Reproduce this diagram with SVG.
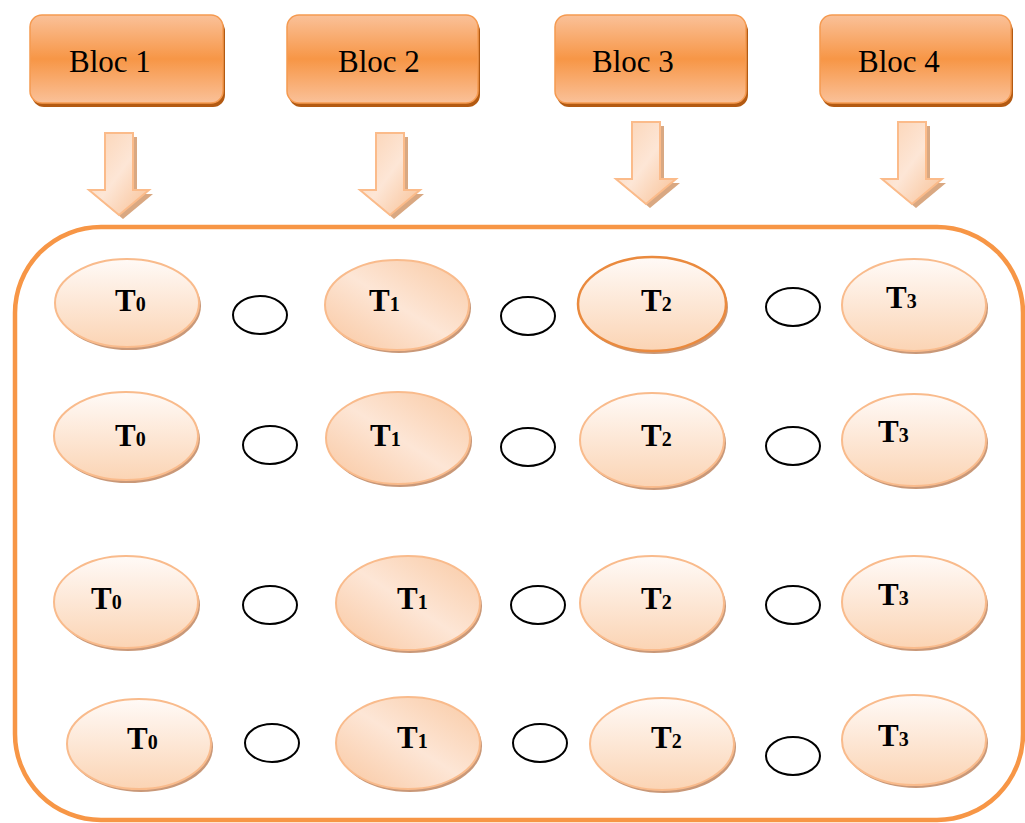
<svg xmlns="http://www.w3.org/2000/svg" width="1025" height="823" viewBox="0 0 1025 823">
<defs>
<linearGradient id="gBloc" x1="0" y1="0" x2="0" y2="1">
<stop offset="0" stop-color="#fac199"/>
<stop offset="0.5" stop-color="#f79646"/>
<stop offset="1" stop-color="#fac199"/>
</linearGradient>
<linearGradient id="gArrow" x1="0" y1="0" x2="1" y2="1">
<stop offset="0" stop-color="#fbd2b2"/>
<stop offset="0.5" stop-color="#fde6d6"/>
<stop offset="1" stop-color="#f8bf92"/>
</linearGradient>
<linearGradient id="gEll" x1="0" y1="0" x2="0" y2="1">
<stop offset="0" stop-color="#fffaf7"/>
<stop offset="1" stop-color="#fbd4b4"/>
</linearGradient>
<linearGradient id="gEll1" x1="0" y1="1" x2="1" y2="0">
<stop offset="0" stop-color="#f9c7a0"/>
<stop offset="0.5" stop-color="#fde6d6"/>
<stop offset="1" stop-color="#f9c9a3"/>
</linearGradient>
<path id="arrow" d="M-14,0 H14 V57 H30 L0,82 L-30,57 H-14 Z"/>
</defs>
<style>
.bloc{fill:url(#gBloc);stroke:#f59a50;stroke-width:1.5}
.blocsh{fill:#b35a12}
.bt{font-family:"Liberation Serif",serif;font-size:31px;fill:#000}
.arr{fill:url(#gArrow);stroke:#fbbb8a;stroke-width:2}
.arrsh{fill:#d9a882}
.ell{fill:url(#gEll);stroke:#f9bb8c;stroke-width:2}
.ell1{fill:url(#gEll1);stroke:#f9bb8c;stroke-width:2}
.ell2{fill:url(#gEll);stroke:#ea8a3e;stroke-width:2.5}
.esh{fill:#c99878}
.c{fill:#fff;stroke:#000;stroke-width:2}
.t{font-family:"Liberation Serif",serif;font-weight:bold;font-size:31px;fill:#000}
.s{font-size:20px}
.frame{fill:none;stroke:#f79646;stroke-width:4.5}
</style>
<rect class="frame" x="15" y="227" width="1008" height="593" rx="86" ry="86"/>
<g id="bloc1"><rect class="blocsh" x="32" y="19" width="193" height="88" rx="12"/><rect class="bloc" x="30" y="15" width="193" height="88" rx="12"/><text class="bt" x="69" y="72">Bloc 1</text></g>
<g id="bloc2"><rect class="blocsh" x="289" y="19" width="191" height="88" rx="12"/><rect class="bloc" x="287" y="15" width="191" height="88" rx="12"/><text class="bt" x="338" y="72">Bloc 2</text></g>
<g id="bloc3"><rect class="blocsh" x="557" y="19" width="191" height="88" rx="12"/><rect class="bloc" x="555" y="15" width="191" height="88" rx="12"/><text class="bt" x="592" y="72">Bloc 3</text></g>
<g id="bloc4"><rect class="blocsh" x="822" y="19" width="191" height="88" rx="12"/><rect class="bloc" x="820" y="15" width="191" height="88" rx="12"/><text class="bt" x="858" y="72">Bloc 4</text></g>
<g id="connectors">
<use href="#arrow" class="arrsh" transform="translate(123,137)"/><use href="#arrow" class="arr" transform="translate(119,133)"/>
<use href="#arrow" class="arrsh" transform="translate(394,137)"/><use href="#arrow" class="arr" transform="translate(390,133)"/>
<use href="#arrow" class="arrsh" transform="translate(650,126)"/><use href="#arrow" class="arr" transform="translate(646,122)"/>
<use href="#arrow" class="arrsh" transform="translate(916,126)"/><use href="#arrow" class="arr" transform="translate(912,122)"/>
</g>
<!-- row 1 -->
<g id="r1t0"><ellipse class="esh" cx="129" cy="306" rx="72" ry="44"/><ellipse class="ell" cx="127" cy="303" rx="72" ry="44"/><text class="t" x="115" y="311">T<tspan class="s">0</tspan></text></g>
<g id="r1c1"><ellipse class="c" cx="260" cy="315" rx="27" ry="19"/></g>
<g id="r1t1"><ellipse class="esh" cx="399" cy="308" rx="72" ry="45"/><ellipse class="ell1" cx="397" cy="305" rx="72" ry="45"/><text class="t" x="369" y="311">T<tspan class="s">1</tspan></text></g>
<g id="r1c2"><ellipse class="c" cx="528" cy="316" rx="27" ry="19"/></g>
<g id="r1t2"><ellipse class="esh" cx="654" cy="307" rx="74" ry="47"/><ellipse class="ell2" cx="652" cy="304" rx="74" ry="47"/><text class="t" x="641" y="311">T<tspan class="s">2</tspan></text></g>
<g id="r1c3"><ellipse class="c" cx="793" cy="307" rx="27" ry="19"/></g>
<g id="r1t3"><ellipse class="esh" cx="916" cy="308" rx="72" ry="46"/><ellipse class="ell" cx="914" cy="305" rx="72" ry="46"/><text class="t" x="886" y="308">T<tspan class="s">3</tspan></text></g>
<!-- row 2 -->
<g id="r2t0"><ellipse class="esh" cx="128" cy="439" rx="72" ry="44"/><ellipse class="ell" cx="126" cy="436" rx="72" ry="44"/><text class="t" x="115" y="446">T<tspan class="s">0</tspan></text></g>
<g id="r2c1"><ellipse class="c" cx="270" cy="445" rx="27" ry="19"/></g>
<g id="r2t1"><ellipse class="esh" cx="400" cy="441" rx="72" ry="46"/><ellipse class="ell1" cx="398" cy="438" rx="72" ry="46"/><text class="t" x="370" y="446">T<tspan class="s">1</tspan></text></g>
<g id="r2c2"><ellipse class="c" cx="528" cy="447" rx="27" ry="19"/></g>
<g id="r2t2"><ellipse class="esh" cx="654" cy="443" rx="72" ry="47"/><ellipse class="ell" cx="652" cy="440" rx="72" ry="47"/><text class="t" x="641" y="446">T<tspan class="s">2</tspan></text></g>
<g id="r2c3"><ellipse class="c" cx="793" cy="446" rx="27" ry="19"/></g>
<g id="r2t3"><ellipse class="esh" cx="916" cy="443" rx="72" ry="46"/><ellipse class="ell" cx="914" cy="440" rx="72" ry="46"/><text class="t" x="878" y="442">T<tspan class="s">3</tspan></text></g>
<!-- row 3 -->
<g id="r3t0"><ellipse class="esh" cx="128" cy="605" rx="72" ry="46"/><ellipse class="ell" cx="126" cy="602" rx="72" ry="46"/><text class="t" x="91" y="609">T<tspan class="s">0</tspan></text></g>
<g id="r3c1"><ellipse class="c" cx="270" cy="605" rx="27" ry="19"/></g>
<g id="r3t1"><ellipse class="esh" cx="410" cy="606" rx="72" ry="47"/><ellipse class="ell1" cx="408" cy="603" rx="72" ry="47"/><text class="t" x="397" y="609">T<tspan class="s">1</tspan></text></g>
<g id="r3c2"><ellipse class="c" cx="538" cy="605" rx="27" ry="19"/></g>
<g id="r3t2"><ellipse class="esh" cx="654" cy="606" rx="72" ry="47"/><ellipse class="ell" cx="652" cy="603" rx="72" ry="47"/><text class="t" x="641" y="609">T<tspan class="s">2</tspan></text></g>
<g id="r3c3"><ellipse class="c" cx="793" cy="605" rx="27" ry="19"/></g>
<g id="r3t3"><ellipse class="esh" cx="916" cy="605" rx="72" ry="46"/><ellipse class="ell" cx="914" cy="602" rx="72" ry="46"/><text class="t" x="878" y="605">T<tspan class="s">3</tspan></text></g>
<!-- row 4 -->
<g id="r4t0"><ellipse class="esh" cx="141" cy="747" rx="72" ry="45"/><ellipse class="ell" cx="139" cy="744" rx="72" ry="45"/><text class="t" x="127" y="749">T<tspan class="s">0</tspan></text></g>
<g id="r4c1"><ellipse class="c" cx="272" cy="743" rx="27" ry="19"/></g>
<g id="r4t1"><ellipse class="esh" cx="410" cy="746" rx="72" ry="46"/><ellipse class="ell1" cx="408" cy="743" rx="72" ry="46"/><text class="t" x="397" y="748">T<tspan class="s">1</tspan></text></g>
<g id="r4c2"><ellipse class="c" cx="540" cy="743" rx="27" ry="19"/></g>
<g id="r4t2"><ellipse class="esh" cx="664" cy="747" rx="72" ry="46"/><ellipse class="ell" cx="662" cy="744" rx="72" ry="46"/><text class="t" x="651" y="748">T<tspan class="s">2</tspan></text></g>
<g id="r4c3"><ellipse class="c" cx="793" cy="756" rx="27" ry="19"/></g>
<g id="r4t3"><ellipse class="esh" cx="916" cy="743" rx="72" ry="45"/><ellipse class="ell" cx="914" cy="740" rx="72" ry="45"/><text class="t" x="878" y="746">T<tspan class="s">3</tspan></text></g>
</svg>
